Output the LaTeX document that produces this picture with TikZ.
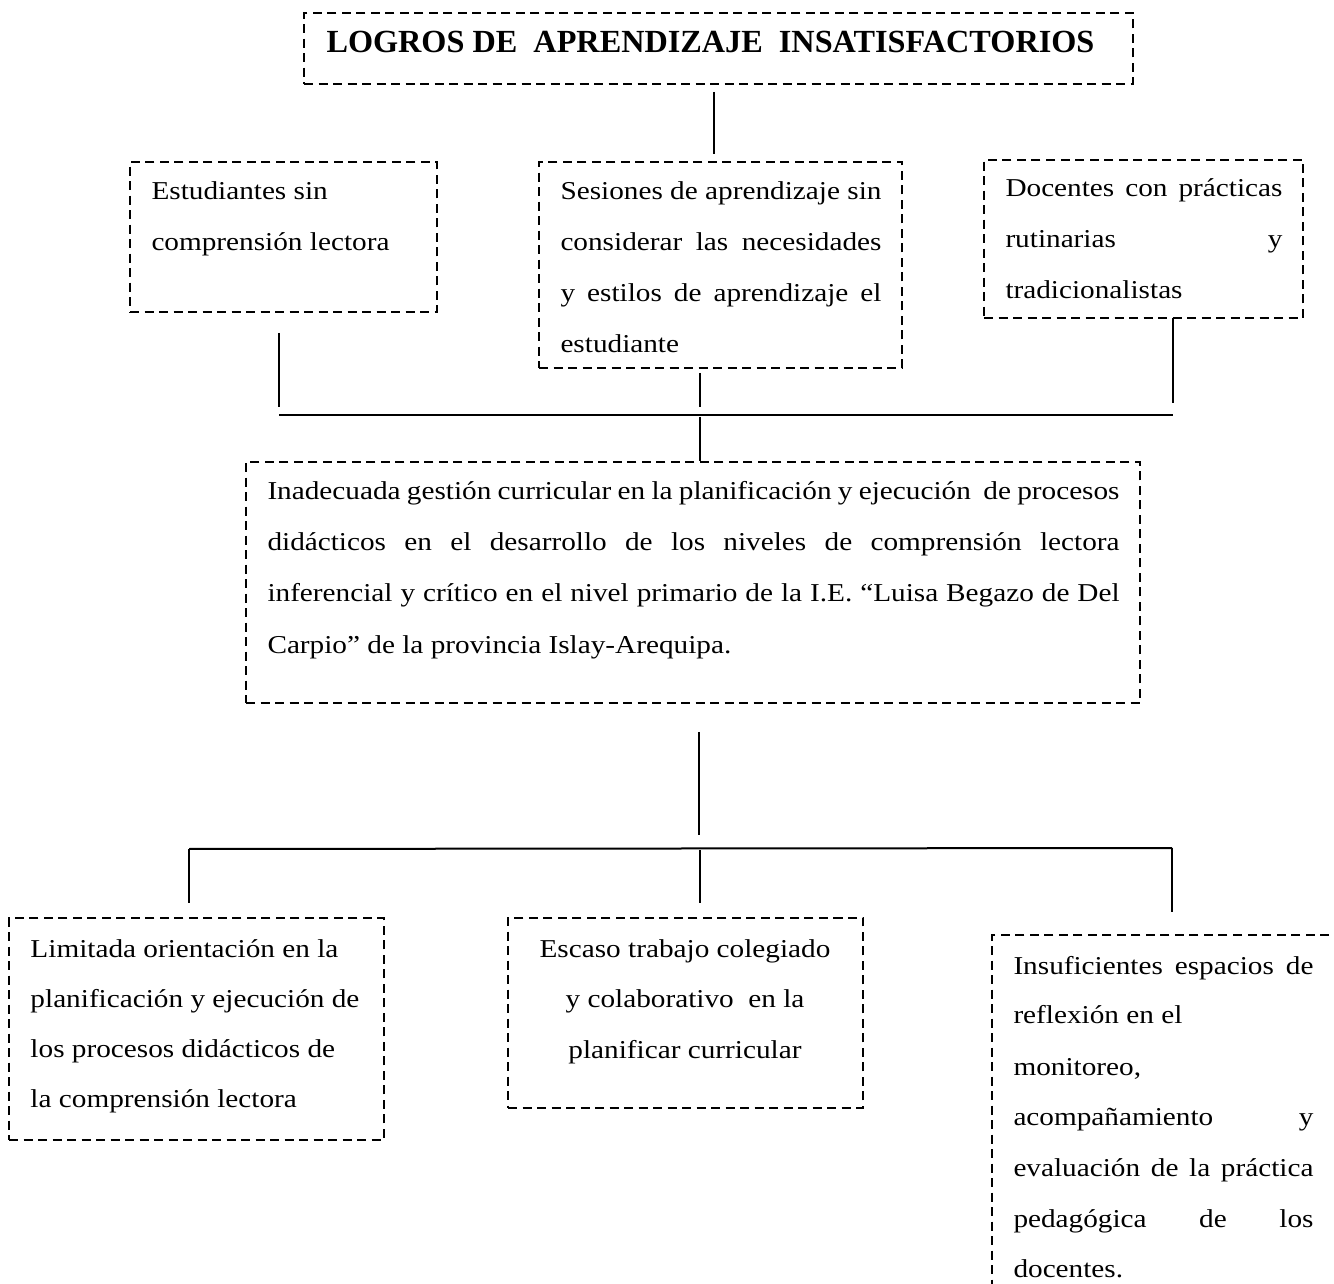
\documentclass[tikz,border=0pt]{standalone}
\usepackage{fontspec}
\setmainfont{Liberation Serif}
\usetikzlibrary{fit}
\newcommand\jl[2]{\makebox[#1][s]{#2}}
\newcommand\sq[1]{\scalebox{1}[0.88]{#1}}
\begin{document}
\begin{tikzpicture}[x=0.4pt,y=-0.4pt,
  dashbox/.style={draw, dash pattern=on 3.6pt off 2.2pt, line width=1.1pt, inner sep=0pt},
  txt/.style={anchor=base west, inner sep=0pt, font=\fontsize{11.7}{14}\selectfont},
  ctxt/.style={anchor=base, inner sep=0pt, font=\fontsize{11.7}{14}\selectfont},
  ttl/.style={anchor=base west, inner sep=0pt, font=\fontsize{12.9}{15}\selectfont\bfseries},
  conn/.style={line width=0.8pt}]
\useasboundingbox (0,0) rectangle (1334,1284);
\clip (0,0) rectangle (1334,1284);

% boxes
\node[dashbox, fit={(304,13) (1133,84)}] (T) {};
\node[dashbox, fit={(130,162) (437,312)}] (A) {};
\node[dashbox, fit={(539,162) (902,368)}] (B) {};
\node[dashbox, fit={(984,160) (1303,318)}] (C) {};
\node[dashbox, fit={(246,462) (1140,703)}] (M) {};
\node[dashbox, fit={(9,918) (384,1140)}] (D) {};
\node[dashbox, fit={(508,918) (863,1108)}] (E) {};
\node[dashbox, fit={(992,935) (1350,1310)}] (F) {};

% title
\node[ttl] (t0) at (326,53) {LOGROS DE\ \ APRENDIZAJE\ \ INSATISFACTORIOS};

% box A
\node[txt] (a1) at (151,200) {\sq{Estudiantes sin}};
\node[txt] (a2) at (151,251) {\sq{comprensión lectora}};

% box B
\node[txt] (b1) at (560,200) {\sq{\jl{128.4pt}{Sesiones de aprendizaje sin}}};
\node[txt] (b2) at (560,251) {\sq{\jl{128.4pt}{considerar las necesidades}}};
\node[txt] (b3) at (560,302) {\sq{\jl{128.4pt}{y estilos de aprendizaje el}}};
\node[txt] (b4) at (560,353) {\sq{estudiante}};

% box C
\node[txt] (c1) at (1005,197) {\sq{\jl{110.8pt}{Docentes con prácticas}}};
\node[txt] (c2) at (1005,248) {\sq{\jl{110.8pt}{rutinarias y}}};
\node[txt] (c3) at (1005,299) {\sq{tradicionalistas}};

% center box
\node[txt] (m1) at (267,500) {\sq{\jl{340.8pt}{Inadecuada gestión curricular en la planificación y ejecución\ \ de procesos}}};
\node[txt] (m2) at (267,551) {\sq{\jl{340.8pt}{didácticos en el desarrollo de los niveles de comprensión lectora}}};
\node[txt] (m3) at (267,602) {\sq{\jl{340.8pt}{inferencial y crítico en el nivel primario de la I.E. “Luisa Begazo de Del}}};
\node[txt] (m4) at (267,653) {\sq{Carpio” de la provincia Islay-Arequipa.}};

% box D
\node[txt] (d1) at (30,957) {\sq{Limitada orientación en la}};
\node[txt] (d2) at (30,1007) {\sq{planificación y ejecución de}};
\node[txt] (d3) at (30,1057) {\sq{los procesos didácticos de}};
\node[txt] (d4) at (30,1107) {\sq{la comprensión lectora}};

% box E
\node[ctxt] (e1) at (685,957) {\sq{Escaso trabajo colegiado}};
\node[ctxt] (e2) at (685,1007) {\sq{y colaborativo\ \ en la}};
\node[ctxt] (e3) at (685,1058) {\sq{planificar curricular}};

% box F
\node[txt] (f1) at (1013,974) {\sq{\jl{120pt}{Insuficientes espacios de}}};
\node[txt] (f2) at (1013,1023) {\sq{reflexión en el}};
\node[txt] (f3) at (1013,1075) {\sq{monitoreo,}};
\node[txt] (f4) at (1013,1125) {\sq{\jl{120pt}{acompañamiento y}}};
\node[txt] (f5) at (1013,1176) {\sq{\jl{120pt}{evaluación de la práctica}}};
\node[txt] (f6) at (1013,1227) {\sq{\jl{120pt}{pedagógica de los}}};
\node[txt] (f7) at (1013,1277) {\sq{docentes.}};

% connector points
\coordinate (tA) at (714,92);  \coordinate (tB) at (714,154);
\coordinate (aA) at (279,333); \coordinate (aB) at (279,407);
\coordinate (bA) at (700,373); \coordinate (bB) at (700,407);
\coordinate (cA) at (1173,318); \coordinate (cB) at (1173,403);
\coordinate (busL) at (279,415); \coordinate (busR) at (1173,415);
\coordinate (mA) at (700,417);
\coordinate (mB) at (699,732); \coordinate (mC) at (699,835);
\coordinate (bbL) at (189,849); \coordinate (bbR) at (1172,848);
\coordinate (dB) at (189,903);
\coordinate (eA) at (700,850); \coordinate (eB) at (700,903);
\coordinate (fB) at (1172,912);

\draw[conn] (tA) -- (tB);
\draw[conn] (aA) -- (aB);
\draw[conn] (bA) -- (bB);
\draw[conn] (cA) -- (cB);
\draw[conn] (busL) -- (busR);
\draw[conn] (mA) -- (mA |- M.north);
\draw[conn] (mB) -- (mC);
\draw[conn] (bbL) -- (bbR);
\draw[conn] (bbL) -- (dB);
\draw[conn] (eA) -- (eB);
\draw[conn] (bbR) -- (fB);
\end{tikzpicture}
\end{document}
